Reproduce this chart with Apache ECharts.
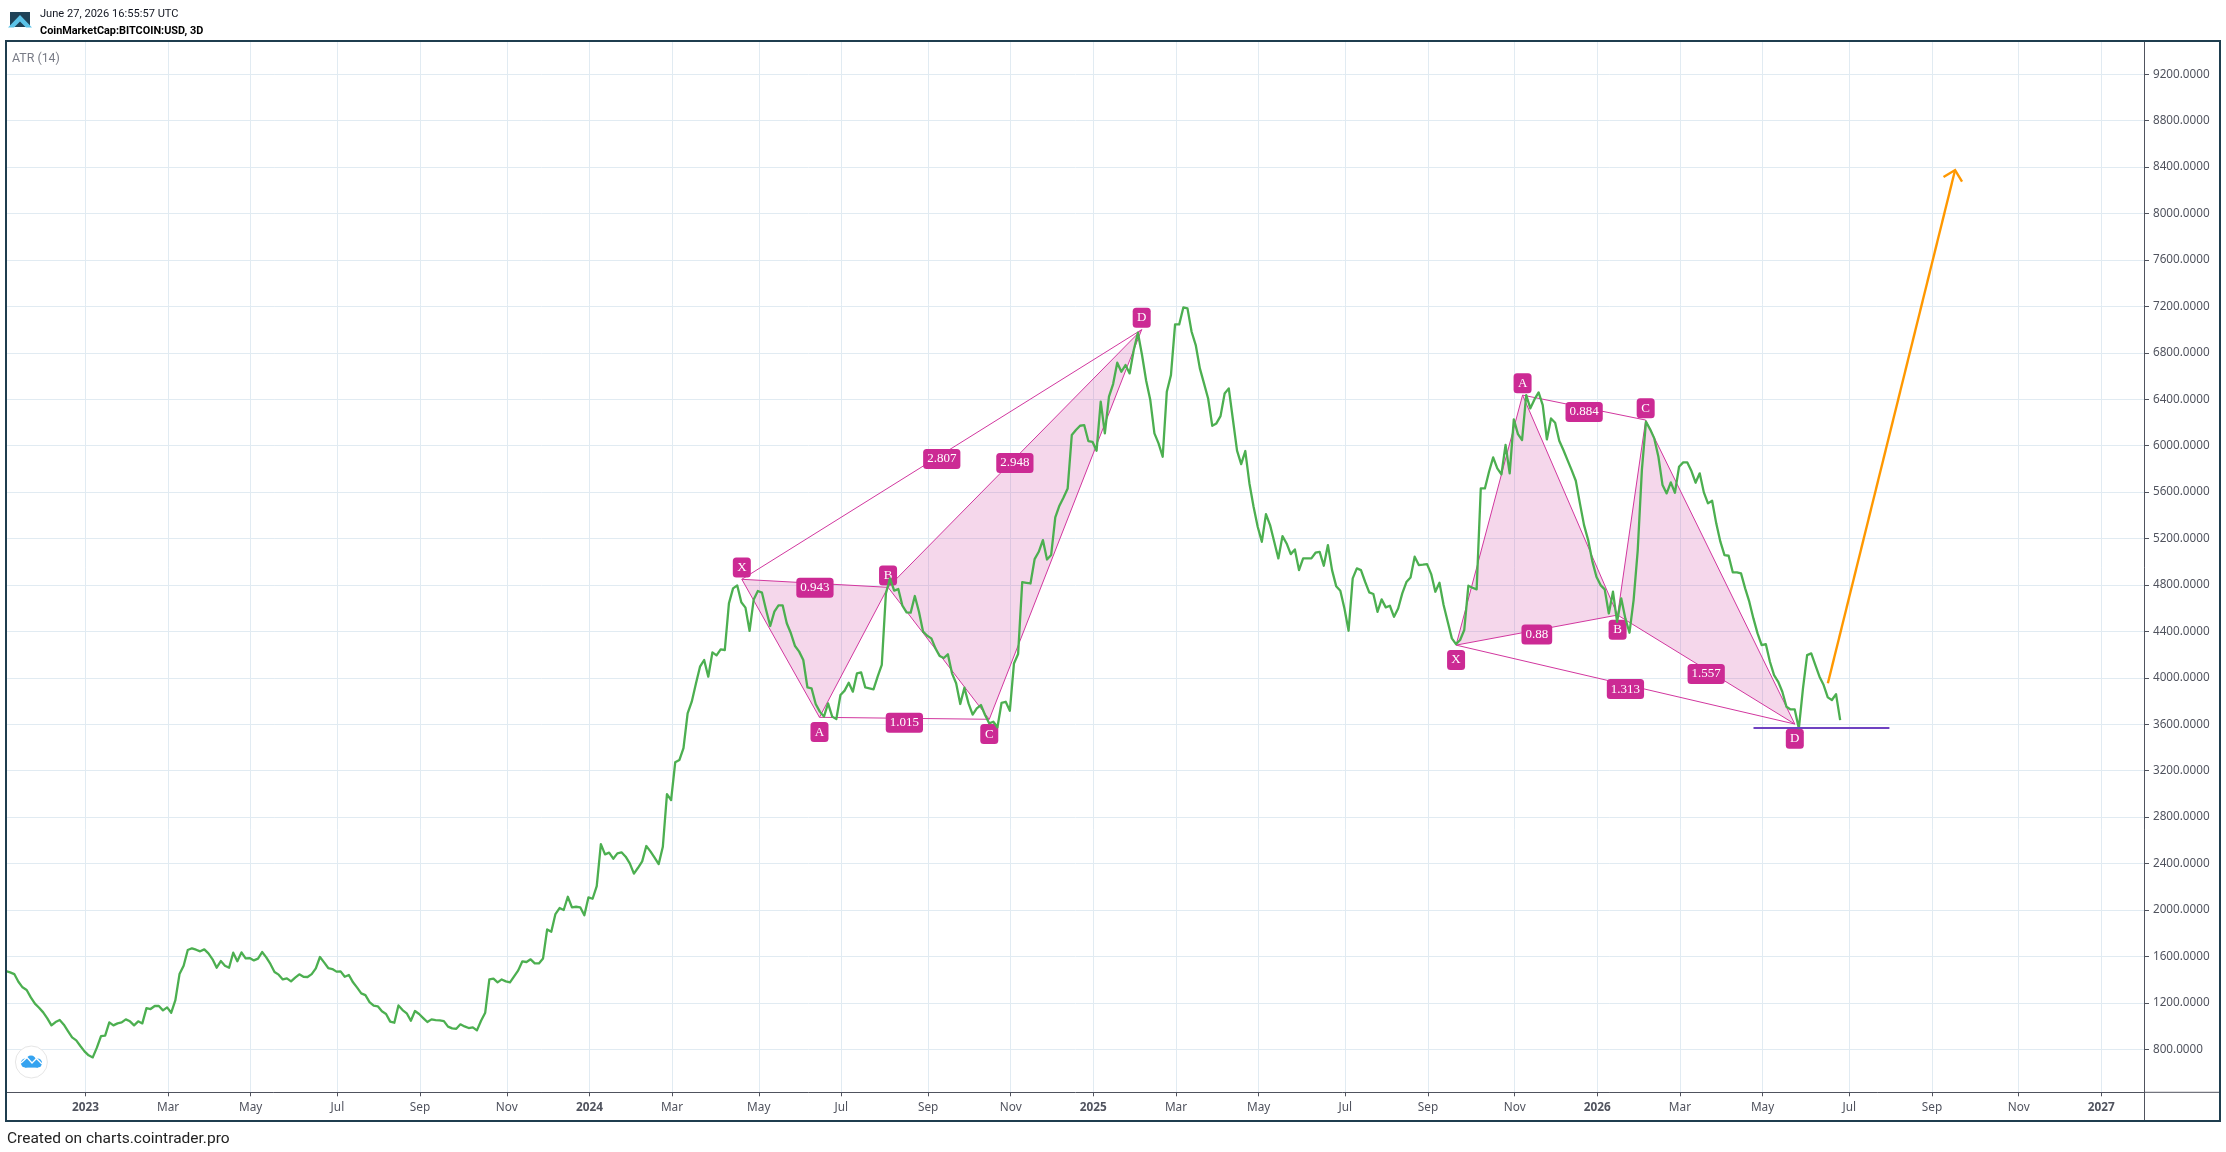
<!DOCTYPE html>
<html>
<head>
<meta charset="utf-8">
<style>html,body{margin:0;padding:0;background:#fff}#c{width:2226px;height:1152px}</style>
<script src="https://cdn.jsdelivr.net/npm/echarts@6/dist/echarts.min.js"></script>
</head>
<body>
<div id="c"></div>
<script>
// 3D closing values of the plotted series, one per bar
const barValues = [
1474,1463,1448,1382,1334,1311,1247,1193,1158,1118,1066,1006,1035,1052,1012,957,903,877,828,782,748,730,814,914,917,1032,1006,1023,1032,1058,1041,1006,1041,1023,1155,1147,1173,1173,1135,1161,1115,1224,
1448,1520,1655,1670,1658,1644,1661,1626,1575,1503,1560,1520,1503,1632,1558,1635,1583,1586,1566,1581,1638,1592,1535,1466,1443,1402,1411,1385,1417,1446,1425,1423,1448,1497,1595,1549,1500,1491,1469,1471,
1425,1440,1377,1331,1282,1267,1207,1176,1170,1127,1104,1038,1029,1178,1138,1110,1046,1130,1104,1069,1035,1058,1052,1049,1043,995,980,977,1015,997,983,989,963,1046,1115,1402,1408,1377,1402,1385,
1377,1428,1480,1558,1552,1575,1540,1540,1583,1833,1813,1965,2017,2000,2114,2023,2028,2023,1954,2109,2097,2206,2568,2479,2494,2442,2488,2497,2459,2402,2313,2364,2419,2551,2505,2451,2396,2545,2999,2947,
3272,3292,3395,3694,3795,3950,4096,4154,4010,4220,4194,4246,4240,4642,4771,4797,4651,4605,4404,4676,4748,4734,4585,4447,4570,4625,4625,4470,4384,4274,4226,4154,3918,3910,3775,3709,3666,3780,3666,3645,
3852,3890,3958,3881,4039,4047,3918,3910,3901,4010,4111,4728,4857,4751,4765,4622,4564,4562,4705,4570,4398,4363,4340,4254,4188,4171,4203,4039,3953,3775,3915,3780,3683,3737,3766,3680,3608,3622,3574,
3785,3794,3716,4124,4205,4825,4819,4813,5023,5086,5187,5020,5058,5382,5483,5554,5632,6092,6135,6172,6178,6040,6034,5957,6379,6106,6422,6531,6715,6637,6695,6623,6824,6973,6781,6560,6393,6106,6020,5905,
6465,6608,7045,7045,7191,7183,6982,6867,6666,6537,6407,6172,6192,6255,6450,6494,6226,5957,5842,5954,5675,5474,5302,5172,5411,5316,5172,5029,5221,5158,5066,5106,4928,5029,5029,5029,5078,5086,4966,5144,
4928,4790,4750,4598,4406,4857,4943,4928,4828,4736,4722,4569,4676,4607,4621,4526,4598,4728,4825,4865,5044,4972,4975,4980,4894,4742,4820,4627,4483,4340,4291,4326,4412,4794,4776,4762,5632,5632,5776,5899,
5805,5753,6006,5762,6227,6100,6049,6436,6322,6399,6459,6350,6054,6235,6198,6043,5963,5876,5790,5698,5503,5316,5187,5006,4871,4799,4762,4555,4742,4483,4685,4512,4389,4670,5101,5790,6207,6141,6063,5905,
5661,5589,5684,5595,5819,5856,5856,5782,5681,5762,5598,5503,5526,5331,5173,5058,5052,4909,4909,4900,4771,4656,4512,4383,4282,4291,4139,4024,3966,3880,3751,3728,3728,3564,3909,4196,4211,4110,4010,3938,
3832,3809,3860,3636
];
const firstBar = -19.22;

// Time axis ticks: bars counted from the first bar of 2023
const tickBars   = [0,20,40,61,81,102,122,142,163,183,204,224,244,264,284,305,325,346,366,386,406,427,447,468,488];
const tickLabels = ['2023','Mar','May','Jul','Sep','Nov','2024','Mar','May','Jul','Sep','Nov','2025','Mar','May','Jul','Sep','Nov','2026','Mar','May','Jul','Sep','Nov','2027'];
const priceTicks = [800,1200,1600,2000,2400,2800,3200,3600,4000,4400,4800,5200,5600,6000,6400,6800,7200,7600,8000,8400,8800,9200];

// Harmonic patterns: points X, A, B, C, D
const patternLetters = ['X','A','B','C','D'];
const pattern1Bars   = [158.9,177.7,194.3,218.8,255.7];
const pattern1Values = [4849,3660,4780,3643,7000];
const pattern1Ratios = ['0.943','1.015','2.807','2.948'];
const pattern2Bars   = [331.8,347.9,370.9,377.7,413.8];
const pattern2Values = [4282,6436,4541,6221,3602];
const pattern2Ratios = ['0.88','0.884','1.313','1.557'];

// Support line and projection arrow
const supportBars   = [403.8,436.7];
const supportValues = [3568,3568];
const arrowBars     = [421.8,452.6];
const arrowValues   = [3953,8375];

const PINK = '#cc2a94';
const labelByBar = {};
tickBars.forEach((b,i)=>{labelByBar[b]=tickLabels[i];});

const linePoints = barValues.map((v,i)=>[firstBar+i,v]);

function buildPattern(bars, vals, ratios, firstUp){
  const p = bars.map((b,i)=>[b,vals[i]]);
  const tris = [[...p[0],...p[1],...p[2]],[...p[2],...p[3],...p[4]]];
  // ratio pairs: X-B, A-C, X-D, B-D
  const pairs = [[0,2],[1,3],[0,4],[2,4]];
  const edges = [[0,1],[1,2],[2,3],[3,4]].concat(pairs).map(e=>[...p[e[0]],...p[e[1]]]);
  const ratioItems = pairs.map((e,i)=>({
    value:[(p[e[0]][0]+p[e[1]][0])/2,(p[e[0]][1]+p[e[1]][1])/2],
    name:ratios[i],
    label:{offset:[0,4.5]}
  }));
  const letterItems = patternLetters.map((l,i)=>{
    const up = (i%2===0) === firstUp;
    return {value:p[i],name:l,label:{offset:[0,up?-11.8:14.8],width:10}};
  });
  return {tris,edges,ratioItems,letterItems};
}
const p1 = buildPattern(pattern1Bars,pattern1Values,pattern1Ratios,true);
const p2 = buildPattern(pattern2Bars,pattern2Values,pattern2Ratios,false);

const labelStyle = {
  show:true,position:'inside',formatter:'{b}',color:'#fff',backgroundColor:PINK,borderRadius:3.5,
  fontFamily:'"Liberation Serif",serif',fontSize:13,lineHeight:20,height:20,padding:[0,4],align:'center',verticalAlign:'middle',
  opacity:1
};
const hidden = {color:'rgba(0,0,0,0)',borderWidth:0};

const chart = echarts.init(document.getElementById('c'),null,{renderer:'canvas',width:2226,height:1152});
const FRAME='#1f3e4f', AXIS='#50535e', GRID='#e1ebf2', AX_FONT='"Noto Sans",sans-serif';
chart.setOption({
  animation:false,
  backgroundColor:'#ffffff',
  grid:{left:7,top:42,width:2137,height:1050.3,containLabel:false},
  xAxis:{
    type:'value',min:-18.98,max:498.33,
    axisLine:{show:true,onZero:false,lineStyle:{color:AXIS,width:1}},
    axisTick:{show:true,length:4,customValues:tickBars,lineStyle:{color:AXIS}},
    splitLine:{show:true,lineStyle:{color:GRID,width:1}},
    axisLabel:{
      customValues:tickBars,margin:9,color:AXIS,fontFamily:AX_FONT,fontSize:11.8,
      hideOverlap:false,showMinLabel:true,showMaxLabel:true,
      formatter:v=>{const t=labelByBar[v];return /^\d/.test(t)?'{y|'+t+'}':t;},
      rich:{y:{fontWeight:'bold',color:AXIS,fontFamily:AX_FONT,fontSize:11.8}}
    }
  },
  yAxis:{
    type:'value',position:'right',min:429.5,max:9478,
    axisLine:{show:true,onZero:false,lineStyle:{color:AXIS,width:1}},
    axisTick:{show:true,length:5,customValues:priceTicks,lineStyle:{color:AXIS}},
    splitLine:{show:true,lineStyle:{color:GRID,width:1}},
    axisLabel:{customValues:priceTicks,margin:9,color:AXIS,fontFamily:AX_FONT,fontSize:11.7,
      formatter:v=>v.toFixed(4)}
  },
  series:[
    {type:'custom',name:'fill',z:2,silent:true,coordinateSystem:'cartesian2d',
     data:[...p1.tris,...p2.tris],
     encode:{x:[0,2,4],y:[1,3,5]},
     renderItem:(params,api)=>({type:'polygon',
       shape:{points:[[0,1],[2,3],[4,5]].map(k=>api.coord([api.value(k[0]),api.value(k[1])]))},
       style:{fill:'rgba(204,42,148,0.19)',stroke:null}})},
    {type:'custom',name:'edges',z:3,silent:true,coordinateSystem:'cartesian2d',
     data:[...p1.edges,...p2.edges],
     encode:{x:[0,2],y:[1,3]},
     renderItem:(params,api)=>{
       const a=api.coord([api.value(0),api.value(1)]),b=api.coord([api.value(2),api.value(3)]);
       return {type:'line',shape:{x1:a[0],y1:a[1],x2:b[0],y2:b[1]},style:{stroke:'#d2379f',lineWidth:1}};
     }},
    {type:'scatter',name:'ratios',z:4,silent:true,symbol:'circle',symbolSize:1,itemStyle:hidden,
     data:[...p1.ratioItems,...p2.ratioItems],label:labelStyle},
    {type:'scatter',name:'points',z:4,silent:true,symbol:'circle',symbolSize:1,itemStyle:hidden,
     data:[...p1.letterItems,...p2.letterItems],label:labelStyle},
    {type:'line',name:'ATR (14)',z:5,silent:true,showSymbol:false,symbol:'none',data:linePoints,
     lineStyle:{color:'#4caf50',width:2.3,join:'round'},clip:true},
    {type:'line',name:'support',z:6,silent:true,showSymbol:false,symbol:'none',
     data:supportBars.map((b,i)=>[b,supportValues[i]]),lineStyle:{color:'#6f42c1',width:2}},
    {type:'custom',name:'arrow',z:6,silent:true,coordinateSystem:'cartesian2d',
     data:[[arrowBars[0],arrowValues[0],arrowBars[1],arrowValues[1]]],
     encode:{x:[0,2],y:[1,3]},
     renderItem:(params,api)=>{
       const a=api.coord([api.value(0),api.value(1)]),b=api.coord([api.value(2),api.value(3)]);
       const ang=Math.atan2(a[1]-b[1],a[0]-b[0]),L=13.5,r=Math.PI/4;
       const w=[b[0]+L*Math.cos(ang+r),b[1]+L*Math.sin(ang+r)],e=[b[0]+L*Math.cos(ang-r),b[1]+L*Math.sin(ang-r)];
       const st={stroke:'#ff9800',lineWidth:2.4,fill:null};
       return {type:'group',children:[
         {type:'line',shape:{x1:a[0],y1:a[1],x2:b[0],y2:b[1]},style:st},
         {type:'polyline',shape:{points:[w,b,e]},style:st}
       ]};
     }}
  ],
  graphic:[
    {type:'rect',z:100,silent:true,shape:{x:6,y:41,width:2214,height:1080},style:{fill:null,stroke:FRAME,lineWidth:2}},
    {type:'line',z:99,silent:true,shape:{x1:2144,y1:1092.3,x2:2219,y2:1092.3},style:{stroke:AXIS,lineWidth:1}},
    {type:'line',z:99,silent:true,shape:{x1:2144.5,y1:1092,x2:2144.5,y2:1120},style:{stroke:AXIS,lineWidth:1}},
    {type:'text',z:100,silent:true,x:40,y:14,style:{text:'June 27, 2026 16:55:57 UTC',fill:'#131722',font:'11.1px Roboto',textVerticalAlign:'middle'}},
    {type:'text',z:100,silent:true,x:40,y:31,style:{text:'CoinMarketCap:BITCOIN:USD, 3D',fill:'#000',font:'bold 10.9px Roboto',textVerticalAlign:'middle'}},
    {type:'text',z:100,silent:true,x:12,y:58.5,style:{text:'ATR (14)',fill:'#787b86',font:'12.4px Roboto',textVerticalAlign:'middle'}},
    {type:'text',z:100,silent:true,x:7,y:1139,style:{text:'Created on charts.cointrader.pro',fill:'#222',font:'15.5px Roboto',textVerticalAlign:'middle'}},
    // header logo
    {type:'rect',z:100,silent:true,shape:{x:10,y:12,width:20,height:15},style:{fill:'#1f4257'}},
    {type:'polygon',z:101,silent:true,shape:{points:[[8,27.5],[20,15],[32,27.5],[26,27.5],[20,21.5],[14,27.5]]},style:{fill:'#5cc3e8'}},
    // bottom-left cloud badge
    {type:'circle',z:100,silent:true,shape:{cx:31.4,cy:1062,r:16},style:{fill:'#fff',stroke:'#e6e6e6',lineWidth:1}},
    {type:'circle',z:101,silent:true,shape:{cx:25.5,cy:1063,r:4.6},style:{fill:'#35a3f0'}},
    {type:'circle',z:101,silent:true,shape:{cx:31,cy:1060.5,r:5},style:{fill:'#35a3f0'}},
    {type:'circle',z:101,silent:true,shape:{cx:37.5,cy:1063,r:4.6},style:{fill:'#35a3f0'}},
    {type:'rect',z:101,silent:true,shape:{x:25,y:1062,width:13,height:5.6},style:{fill:'#35a3f0'}},
    {type:'polyline',z:102,silent:true,shape:{points:[[21,1063],[27,1057.5],[32,1063],[36.5,1058.5],[42,1064]]},style:{stroke:'#fff',lineWidth:1.3,fill:null}}
  ]
});
</script>
</body>
</html>
